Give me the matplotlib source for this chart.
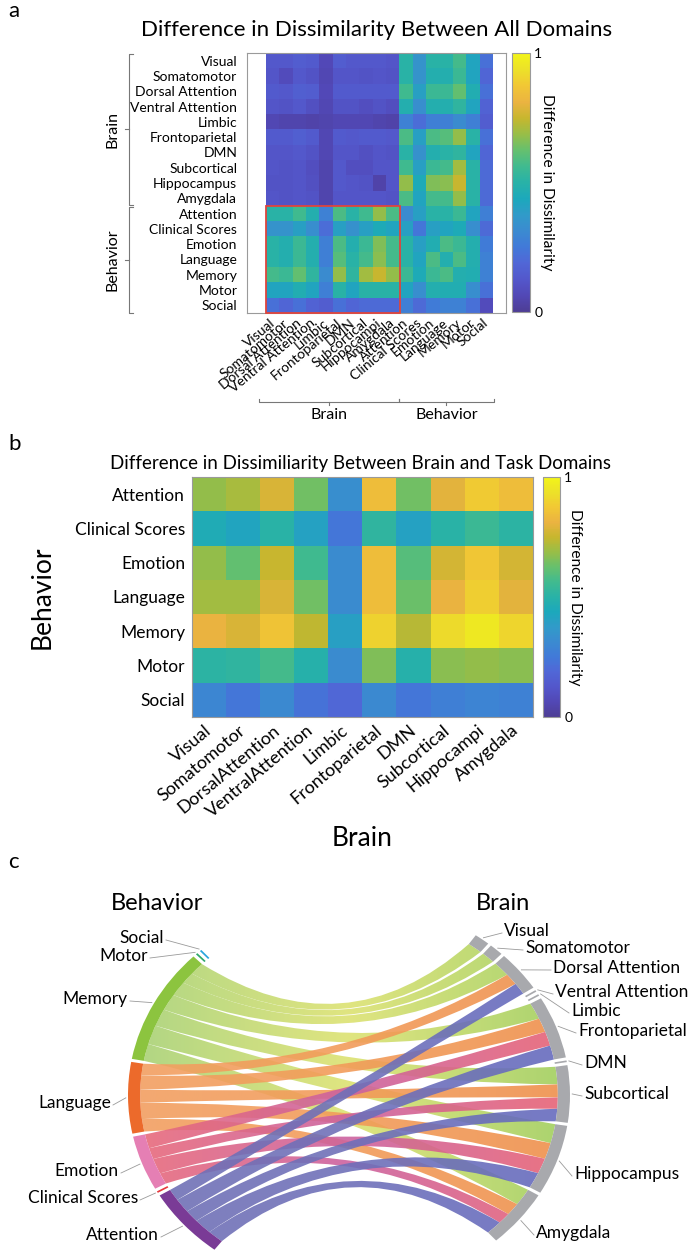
import numpy as np
import matplotlib.pyplot as plt
import matplotlib.transforms as mtransforms
from matplotlib.colors import LinearSegmentedColormap
from matplotlib.patches import Rectangle, PathPatch, Wedge
from matplotlib.path import Path

plt.rcParams['font.family'] = ['Lato', 'DejaVu Sans']

W, H = 692, 1250

# --- labels ---
brain_regions = ['Visual', 'Somatomotor', 'Dorsal Attention', 'Ventral Attention', 'Limbic',
                 'Frontoparietal', 'DMN', 'Subcortical', 'Hippocampus', 'Amygdala']
brain_cols_a = ['Visual', 'Somatomotor', 'Dorsal Attention', 'Ventral Attention', 'Limbic',
                'Frontoparietal', 'DMN', 'Subcortical', 'Hippocampi', 'Amygdala']
brain_cols_b = ['Visual', 'Somatomotor', 'DorsalAttention', 'VentralAttention', 'Limbic',
                'Frontoparietal', 'DMN', 'Subcortical', 'Hippocampi', 'Amygdala']
behaviors = ['Attention', 'Clinical Scores', 'Emotion', 'Language', 'Memory', 'Motor', 'Social']

# --- panel a: difference in dissimilarity, all domains ---
brain_brain = [
    [0.13, 0.13, 0.15, 0.14, 0.07, 0.15, 0.13, 0.13, 0.13, 0.12],
    [0.12, 0.08, 0.13, 0.11, 0.06, 0.12, 0.12, 0.11, 0.12, 0.11],
    [0.14, 0.13, 0.16, 0.15, 0.07, 0.14, 0.14, 0.14, 0.14, 0.14],
    [0.12, 0.11, 0.13, 0.10, 0.06, 0.11, 0.11, 0.09, 0.11, 0.09],
    [0.06, 0.05, 0.05, 0.04, 0.05, 0.06, 0.06, 0.06, 0.05, 0.04],
    [0.14, 0.14, 0.16, 0.14, 0.06, 0.14, 0.13, 0.14, 0.14, 0.13],
    [0.12, 0.12, 0.13, 0.11, 0.06, 0.12, 0.12, 0.10, 0.12, 0.11],
    [0.12, 0.11, 0.12, 0.09, 0.05, 0.13, 0.09, 0.09, 0.12, 0.12],
    [0.11, 0.11, 0.12, 0.10, 0.05, 0.13, 0.12, 0.11, 0.04, 0.12],
    [0.12, 0.11, 0.12, 0.11, 0.05, 0.12, 0.12, 0.12, 0.12, 0.11],
]
behav_brain_a = [
    [0.50, 0.50, 0.56, 0.48, 0.28, 0.58, 0.50, 0.56, 0.68, 0.58],
    [0.35, 0.35, 0.40, 0.33, 0.21, 0.40, 0.34, 0.40, 0.45, 0.42],
    [0.50, 0.48, 0.55, 0.48, 0.27, 0.58, 0.48, 0.55, 0.66, 0.57],
    [0.50, 0.48, 0.55, 0.48, 0.27, 0.60, 0.50, 0.57, 0.67, 0.57],
    [0.57, 0.55, 0.62, 0.52, 0.32, 0.68, 0.52, 0.70, 0.75, 0.68],
    [0.42, 0.42, 0.47, 0.42, 0.27, 0.50, 0.42, 0.50, 0.50, 0.50],
    [0.22, 0.18, 0.22, 0.17, 0.15, 0.22, 0.18, 0.20, 0.20, 0.20],
]
behav_behav = [
    [0.32, 0.40, 0.50, 0.50, 0.55, 0.42, 0.27],
    [0.40, 0.24, 0.40, 0.42, 0.45, 0.33, 0.20],
    [0.50, 0.40, 0.47, 0.58, 0.55, 0.48, 0.26],
    [0.50, 0.42, 0.58, 0.48, 0.58, 0.48, 0.28],
    [0.55, 0.45, 0.55, 0.58, 0.48, 0.47, 0.28],
    [0.42, 0.33, 0.48, 0.47, 0.47, 0.33, 0.22],
    [0.27, 0.20, 0.26, 0.28, 0.28, 0.22, 0.08],
]

# --- panel b: brain vs task domains ---
behav_brain_b = [
    [0.68, 0.71, 0.78, 0.64, 0.33, 0.84, 0.64, 0.80, 0.88, 0.84],
    [0.46, 0.42, 0.50, 0.41, 0.24, 0.52, 0.41, 0.50, 0.55, 0.51],
    [0.68, 0.62, 0.75, 0.56, 0.32, 0.84, 0.60, 0.77, 0.87, 0.77],
    [0.70, 0.70, 0.78, 0.64, 0.32, 0.84, 0.63, 0.81, 0.89, 0.80],
    [0.81, 0.78, 0.86, 0.74, 0.40, 0.90, 0.73, 0.92, 0.96, 0.91],
    [0.51, 0.52, 0.57, 0.49, 0.32, 0.66, 0.49, 0.67, 0.68, 0.67],
    [0.30, 0.24, 0.31, 0.23, 0.19, 0.31, 0.24, 0.27, 0.29, 0.28],
]

# --- panel c: links above threshold, width ~ (value - base) ---
link_threshold = 0.76
chord_base = 0.5

# MATLAB parula (every 4th entry of parula(64)), muted like the print (more at the blue end)
parula_pts = np.array([
    [0.2422, 0.1504, 0.6603], [0.2706, 0.2147, 0.8364], [0.2813, 0.3006, 0.9414],
    [0.2699, 0.3892, 0.9906], [0.1963, 0.4847, 0.9892], [0.1687, 0.5703, 0.9359],
    [0.1248, 0.6459, 0.8883], [0.0297, 0.7082, 0.8163], [0.0964, 0.7500, 0.7120],
    [0.2161, 0.7843, 0.5923], [0.3909, 0.8029, 0.4354], [0.6174, 0.7876, 0.2612],
    [0.8203, 0.7498, 0.1535], [0.9728, 0.7298, 0.2394], [0.9892, 0.8136, 0.1885],
    [0.9597, 0.9135, 0.1423], [0.9769, 0.9839, 0.0805],
])
mute = np.linspace(0.30, 0.05, len(parula_pts))[:, None]
parula = LinearSegmentedColormap.from_list(
    'parula', parula_pts * (1 - mute) + np.array([0.45, 0.45, 0.40]) * mute)

fig = plt.figure(figsize=(W / 100, H / 100), dpi=100)


def px_axes(x0, y0, x1, y1):
    return fig.add_axes([x0 / W, 1 - y1 / H, (x1 - x0) / W, (y1 - y0) / H])


def style_cbar(cax, im, pad):
    cb = fig.colorbar(im, cax=cax, ticks=[0, 1])
    cb.ax.set_yticklabels(['0', '1'], fontsize=10)
    cb.ax.tick_params(length=0, pad=3)
    cb.outline.set_edgecolor('#9a9a9a')
    cb.outline.set_linewidth(0.8)
    cb.set_label('Difference in Dissimilarity', rotation=-90, va='bottom', fontsize=11.2,
                 labelpad=pad)


def gray_frame(ax):
    for s in ax.spines.values():
        s.set_edgecolor('#9a9a9a')
        s.set_linewidth(0.8)


# ---------------- panel a ----------------
nr, nb = len(brain_regions), len(behaviors)
mat_a = np.block([[np.array(brain_brain), np.array(behav_brain_a).T],
                  [np.array(behav_brain_a), np.array(behav_behav)]])
ax_a = px_axes(247, 53, 506, 313)
im_a = ax_a.imshow(mat_a, cmap=parula, vmin=0, vmax=1, aspect='auto', interpolation='nearest')
ax_a.set_xticks(range(nr + nb))
ax_a.set_xticklabels(brain_cols_a + behaviors, rotation=40, ha='right', va='center',
                     rotation_mode='anchor', fontsize=10)
ax_a.set_yticks(range(nr + nb))
ax_a.set_yticklabels(brain_regions + behaviors, fontsize=10)
ax_a.tick_params(axis='y', length=0, pad=7)
ax_a.tick_params(axis='x', length=0, pad=6)
gray_frame(ax_a)
ax_a.add_patch(Rectangle((-0.5, nr - 0.5), nr, nb, fill=False, ec='#e0443c', lw=1.3,
                         clip_on=False, zorder=3))

# group brackets
tr_y = mtransforms.blended_transform_factory(ax_a.transAxes, ax_a.transData)
bx, tk = -0.456, 0.016
for (y0, y1), name in [((-0.45, nr - 0.55), 'Brain'), ((nr - 0.45, nr + nb - 0.5), 'Behavior')]:
    ax_a.plot([bx + tk, bx, bx, bx + tk], [y0, y0, y1, y1], color='#777777', lw=0.8,
              transform=tr_y, clip_on=False)
    ym = (y0 + y1) / 2
    ax_a.plot([bx, bx - tk], [ym, ym], color='#777777', lw=0.8, transform=tr_y, clip_on=False)
    ax_a.text(-0.52, ym, name, rotation=90, ha='center', va='center', fontsize=11.5,
              transform=tr_y)
tr_x = mtransforms.blended_transform_factory(ax_a.transData, ax_a.transAxes)
by, tky = -0.342, 0.013
for (x0, x1), name in [((-1.07, nr - 0.58), 'Brain'), ((nr - 0.58, nr + nb - 0.4), 'Behavior')]:
    ax_a.plot([x0, x0, x1, x1], [by + tky, by, by, by + tky], color='#777777', lw=0.8,
              transform=tr_x, clip_on=False)
    xm = (x0 + x1) / 2
    ax_a.plot([xm, xm], [by, by - tky], color='#777777', lw=0.8, transform=tr_x, clip_on=False)
    ax_a.text(xm, -0.392, name, ha='center', va='center', fontsize=11.5, transform=tr_x)

style_cbar(px_axes(512, 53, 530, 312), im_a, -2)
fig.text(377 / W, 1 - 30 / H, 'Difference in Dissimilarity Between All Domains',
         ha='center', va='center', fontsize=16)
fig.text(8 / W, 1 - 11 / H, 'a', fontsize=16, va='center')

# ---------------- panel b ----------------
ax_b = px_axes(192, 477, 533, 717)
im_b = ax_b.imshow(np.array(behav_brain_b), cmap=parula, vmin=0, vmax=1, aspect='auto',
                   interpolation='nearest')
ax_b.set_xticks(range(nr))
ax_b.set_xticklabels(brain_cols_b, rotation=40, ha='right', va='center',
                     rotation_mode='anchor', fontsize=13)
ax_b.set_yticks(range(nb))
ax_b.set_yticklabels(behaviors, fontsize=12.5)
ax_b.tick_params(axis='y', length=0, pad=5)
ax_b.tick_params(axis='x', length=0, pad=8)
gray_frame(ax_b)
style_cbar(px_axes(543, 477, 560, 717), im_b, -3)
fig.text(361 / W, 1 - 463 / H, 'Difference in Dissimiliarity Between Brain and Task Domains',
         ha='center', va='center', fontsize=13.5)
fig.text(42 / W, 1 - 597 / H, 'Behavior', rotation=90, ha='center', va='center', fontsize=19)
fig.text(362 / W, 1 - 838 / H, 'Brain', ha='center', va='center', fontsize=19)
fig.text(8 / W, 1 - 444 / H, 'b', fontsize=16, va='center')

# ---------------- panel c: chord diagram ----------------
cx, cy, rx, ry = 349, 1095, 221, 195          # circle drawn in unit coords, stretched
ax_c = px_axes(0, 870, W, H)
xl = ((0 - cx) / rx, (W - cx) / rx)
yl = ((cy - H) / ry, (cy - 870) / ry)
ax_c.axis('off')


def to_unit(x, y):
    return (x - cx) / rx, (cy - y) / ry


vals = np.array(behav_brain_b)
links = [(i, j, vals[i, j] - chord_base) for i in range(nb) for j in range(nr)
         if vals[i, j] > link_threshold]

deg_per_unit, gap, tiny = 13.1, 0.9, 0.5
bend = 0.3          # bezier control = bend * midpoint of the two ends


def layout(weights, start):
    spans, a = [], start
    for w in weights:
        width = w * deg_per_unit if w > 0 else tiny
        spans.append((a, a - width))
        a -= width + gap
    return spans


brain_w = [sum(w for i, j, w in links if j == jj) for jj in range(nr)]
behav_w = [sum(w for i, j, w in links if i == ii) for ii in range(nb)]
brain_span = layout(brain_w, 55.0)
behav_span = layout(behav_w, 232.5)

# sub-segments within each node (clockwise, partner in descending index order)
seg_brain, seg_behav = {}, {}
for jj in range(nr):
    cur = brain_span[jj][0]
    for i, j, w in sorted([l for l in links if l[1] == jj], key=lambda l: -l[0]):
        seg_brain[(i, j)] = (cur, cur - w * deg_per_unit)
        cur -= w * deg_per_unit
for ii in range(nb):
    cur = behav_span[ii][0]
    for i, j, w in sorted([l for l in links if l[0] == ii], key=lambda l: -l[1]):
        seg_behav[(i, j)] = (cur, cur - w * deg_per_unit)
        cur -= w * deg_per_unit

behav_ring = ['#7a3b96', '#e5383d', '#e57fb4', '#ec6a2b', '#8cc43f', '#2fa86a', '#2ba6dd']
brain_ring = '#a8a9ad'
ribbon_cols = {
    0: ['#7070b6', '#6f70b9', '#666bbf'],
    2: ['#ea6b79', '#cc62a0', '#e96474'],
    3: ['#f29f62', '#f29c5a', '#ef904c'],
    4: ['#a6d176', '#dde272', '#9fce5e'],
}
r_in, r_out = 0.945, 1.0


def arc_pts(t0, t1, r, n=40):
    t = np.radians(np.linspace(t0, t1, n))
    return list(zip(r * np.cos(t), r * np.sin(t)))


def ctrl(p, q):
    return (bend * (p[0] + q[0]) / 2, bend * (p[1] + q[1]) / 2)


grad = np.linspace(0, 1, 256).reshape(1, -1)
z = 2
for i in [4, 3, 2, 0]:
    cmap_i = LinearSegmentedColormap.from_list('rib%d' % i, ribbon_cols[i])
    for (ii, j, w) in [l for l in links if l[0] == i]:
        a1, a2 = seg_behav[(ii, j)]
        b1, b2 = seg_brain[(ii, j)]
        pa, pb = arc_pts(a1, a2, r_in), arc_pts(b1, b2, r_in)
        verts = (pa + [ctrl(pa[-1], pb[0]), pb[0]] + pb[1:]
                 + [ctrl(pb[-1], pa[0]), pa[0], pa[0]])
        codes = ([Path.MOVETO] + [Path.LINETO] * (len(pa) - 1) + [Path.CURVE3, Path.CURVE3]
                 + [Path.LINETO] * (len(pb) - 1) + [Path.CURVE3, Path.CURVE3, Path.CLOSEPOLY])
        patch = PathPatch(Path(verts, codes), fc='none', ec='none', zorder=z + 1)
        ax_c.add_patch(patch)
        im = ax_c.imshow(grad, cmap=cmap_i, extent=(-1, 1, -1, 1), aspect='auto',
                         interpolation='bilinear', alpha=0.9, zorder=z)
        im.set_clip_path(patch)
        z += 2

for k, (t0, t1) in enumerate(behav_span):
    ax_c.add_patch(Wedge((0, 0), r_out, t1, t0, width=r_out - r_in, fc=behav_ring[k],
                         ec='none', zorder=100))
for k, (t0, t1) in enumerate(brain_span):
    ax_c.add_patch(Wedge((0, 0), r_out, t1, t0, width=r_out - r_in, fc=brain_ring,
                         ec='none', zorder=100))

# node labels with leader lines (text anchor positions in pixels)
behav_label_px = {'Attention': (159, 1235), 'Clinical Scores': (138, 1198), 'Emotion': (119, 1171),
                  'Language': (111, 1103), 'Memory': (128, 999), 'Motor': (148, 956),
                  'Social': (164, 938)}
brain_label_px = {'Visual': (504, 931), 'Somatomotor': (525, 948), 'Dorsal Attention': (553, 968),
                  'Ventral Attention': (555, 992), 'Limbic': (571, 1011),
                  'Frontoparietal': (578, 1031), 'DMN': (584, 1063), 'Subcortical': (584, 1094),
                  'Hippocampus': (574, 1174), 'Amygdala': (536, 1233)}
for names, spans, pos, side in [(behaviors, behav_span, behav_label_px, -1),
                                (brain_regions, brain_span, brain_label_px, 1)]:
    for name, (t0, t1) in zip(names, spans):
        tm = np.radians((t0 + t1) / 2)
        x, y = pos[name]
        ux, uy = to_unit(x - side * 2, y + 2)
        ax_c.plot([1.01 * np.cos(tm), ux], [1.01 * np.sin(tm), uy], color='#9a9a9a', lw=0.6,
                  zorder=101)
        ax_c.text(*to_unit(x, y), name, ha='right' if side < 0 else 'left', va='center',
                  fontsize=12.5, zorder=102)

ax_c.text(*to_unit(157, 903), 'Behavior', ha='center', va='center', fontsize=17)
ax_c.text(*to_unit(503, 903), 'Brain', ha='center', va='center', fontsize=17)
ax_c.set_xlim(*xl)
ax_c.set_ylim(*yl)
fig.text(8 / W, 1 - 862 / H, 'c', fontsize=16, va='center')

plt.savefig('out.png', dpi=100)
